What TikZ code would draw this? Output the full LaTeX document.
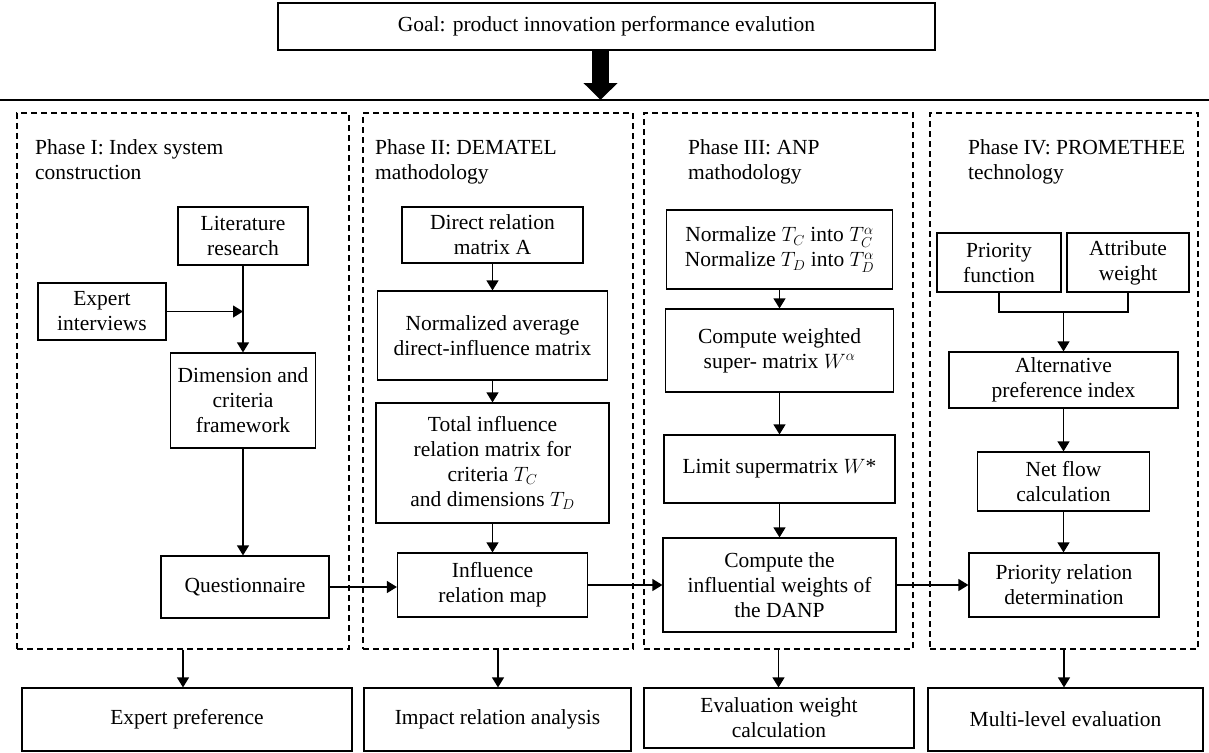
\documentclass[tikz,border=0pt]{standalone}
\usepackage{fontspec}
\setmainfont{Liberation Serif}
\usetikzlibrary{arrows.meta}
\begin{document}
\begin{tikzpicture}[x=1pt,y=-1pt,
  every node/.style={font=\fontsize{21.5}{25}\selectfont},
  box/.style={draw,line width=1.2pt,align=center,inner sep=0pt},
  phase/.style={draw,line width=1.1pt,dash pattern=on 6pt off 4pt,inner sep=0pt},
  title/.style={align=left,anchor=north west,inner sep=0pt},
  arr/.style={line width=1.2pt,-{Triangle[length=10pt,width=12pt]}},
  ln/.style={line width=1.2pt}]
\useasboundingbox (0,0) rectangle (1209,752);
% goal
\node[box,minimum width=657pt,minimum height=47pt] (goal) at (606.5,26.5) {Goal: product innovation performance evalution};
\coordinate (gtip) at (600.5,100);
\coordinate (hl0) at (0,100);
\coordinate (hl1) at (1209,100);
\draw[line width=1.4pt] (hl0) -- (hl1);
\draw[line width=17pt,-{Triangle[length=17pt,width=33pt]}] (goal.south -| gtip) -- (gtip);
% phase boxes
\node[phase,minimum width=332pt,minimum height=536pt] (p1) at (183,381) {};
\node[phase,minimum width=270pt,minimum height=536pt] (p2) at (498,381) {};
\node[phase,minimum width=269pt,minimum height=536pt] (p3) at (778.5,381) {};
\node[phase,minimum width=268pt,minimum height=536pt] (p4) at (1064,381) {};
\node[title] (t1) at (35,139) {Phase I: Index system\\construction};
\node[title] (t2) at (375,139) {Phase II: DEMATEL\\mathodology};
\node[title] (t3) at (688,139) {Phase III: ANP\\mathodology};
\node[title] (t4) at (968,139) {Phase IV: PROMETHEE\\technology};
% phase I
\node[box,minimum width=130pt,minimum height=58pt] (lit) at (243,236) {Literature\\research};
\node[box,minimum width=128pt,minimum height=57pt] (exp) at (102,311.5) {Expert\\interviews};
\node[box,minimum width=145pt,minimum height=95pt] (dim) at (243,400.5) {Dimension and\\criteria\\framework};
\node[box,minimum width=168pt,minimum height=62pt] (que) at (245,587) {Questionnaire};
\draw[arr] (lit.south) -- (dim.north);
\draw[arr] (exp.east) -- (exp.east -| lit.south);
\draw[arr] (dim.south) -- (dim.south |- que.north);
% phase II
\node[box,minimum width=181pt,minimum height=56pt] (dir) at (492.5,235) {Direct relation\\matrix A};
\node[box,minimum width=230pt,minimum height=89pt] (nor) at (492.5,335.5) {Normalized average\\direct-influence matrix};
\node[box,minimum width=233pt,minimum height=120pt] (tot) at (492.5,463) {Total influence\\relation matrix for\\criteria $T_C$\\and dimensions $T_D$};
\node[box,minimum width=190pt,minimum height=64pt] (inf) at (492.5,585) {Influence\\relation map};
\draw[arr] (dir.south) -- (nor.north);
\draw[arr] (nor.south) -- (tot.north);
\draw[arr] (tot.south) -- (inf.north);
% phase III
\node[box,minimum width=226pt,minimum height=79pt] (nrm) at (779.5,249.5) {Normalize $T_C$ into $T_C^\alpha$\\Normalize $T_D$ into $T_D^\alpha$};
\node[box,minimum width=228pt,minimum height=83pt] (cw) at (779.5,350.5) {Compute weighted\\super- matrix $W^\alpha$};
\node[box,minimum width=231pt,minimum height=68pt] (lim) at (779.5,469) {Limit supermatrix $W$*};
\node[box,minimum width=233pt,minimum height=94pt] (danp) at (779.5,585) {Compute the\\influential weights of\\the DANP};
\draw[arr] (nrm.south) -- (cw.north);
\draw[arr] (cw.south) -- (lim.north);
\draw[arr] (lim.south) -- (danp.north);
% phase IV
\node[box,minimum width=124pt,minimum height=59pt] (pf) at (999,262.5) {Priority\\function};
\node[box,minimum width=122pt,minimum height=59pt] (aw) at (1128,262.5) {Attribute\\weight};
\node[box,minimum width=229pt,minimum height=56pt] (alt) at (1063.5,380) {Alternative\\preference index};
\node[box,minimum width=172pt,minimum height=59pt] (net) at (1063.5,481.5) {Net flow\\calculation};
\node[box,minimum width=190pt,minimum height=64pt] (pri) at (1064,585) {Priority relation\\determination};
\coordinate (jn) at (1063.5,312);
\draw[ln] (pf.south) |- (jn);
\draw[ln] (aw.south) |- (jn);
\draw[arr] (jn) -- (alt.north);
\draw[arr] (alt.south) -- (net.north);
\draw[arr] (net.south) -- (net.south |- pri.north);
% cross-phase arrows
\draw[arr] (que.east) -- (que.east -| inf.west);
\draw[arr] (inf.east) -- (danp.west);
\draw[arr] (danp.east) -- (pri.west);
% results
\node[box,minimum width=330pt,minimum height=63pt] (r1) at (187,719.5) {Expert preference};
\node[box,minimum width=267pt,minimum height=63pt] (r2) at (497.5,719.5) {Impact relation analysis};
\node[box,minimum width=270pt,minimum height=60pt] (r3) at (779,718) {Evaluation weight\\calculation};
\node[box,minimum width=275pt,minimum height=63pt] (r4) at (1065.5,719.5) {Multi-level evaluation};
\draw[arr] (p1.south) -- (p1.south |- r1.north);
\draw[arr] (p2.south) -- (p2.south |- r2.north);
\draw[arr] (p3.south) -- (p3.south |- r3.north);
\draw[arr] (p4.south) -- (p4.south |- r4.north);
\end{tikzpicture}
\end{document}
